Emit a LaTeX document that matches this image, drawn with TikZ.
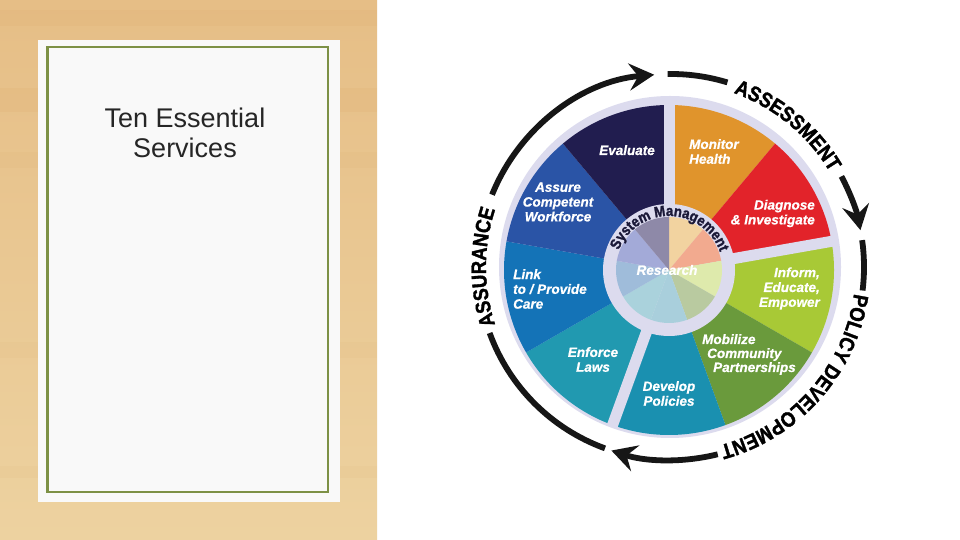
\documentclass[tikz,border=0pt]{standalone}
\usepackage{fontspec}
\setmainfont{Liberation Sans}
\newfontfamily\heavyfam{Liberation Sans}[FakeBold=1.6, FakeStretch=0.88]
\newfontfamily\secfam{Liberation Sans}[FakeBold=0.7]
\usetikzlibrary{arrows.meta,decorations.text}

\definecolor{woodtop}{HTML}{E6BE86}
\definecolor{woodbot}{HTML}{EDD2A0}
\definecolor{woodstreak}{HTML}{D9A564}
\definecolor{cardwhite}{HTML}{F9F9F9}
\definecolor{cardgreen}{HTML}{7D9146}
\definecolor{titlegray}{HTML}{262626}
\definecolor{lav}{HTML}{DCDBEE}
\definecolor{ringblack}{HTML}{161616}
\definecolor{smnavy}{HTML}{1B1938}
\definecolor{cEva}{HTML}{211D4F}
\definecolor{cMon}{HTML}{E0942C}
\definecolor{cDia}{HTML}{E2232A}
\definecolor{cInf}{HTML}{A8C936}
\definecolor{cMob}{HTML}{6A9A3C}
\definecolor{cDev}{HTML}{1A90B0}
\definecolor{cEnf}{HTML}{2199B0}
\definecolor{cLink}{HTML}{1473B7}
\definecolor{cAss}{HTML}{2A54A6}
\definecolor{hEva}{HTML}{8E89A8}
\definecolor{hMon}{HTML}{F2D3A0}
\definecolor{hDia}{HTML}{F2AA8F}
\definecolor{hInf}{HTML}{DEEAAC}
\definecolor{hMob}{HTML}{B9CAA0}
\definecolor{hDev}{HTML}{A9CFDC}
\definecolor{hEnf}{HTML}{AAD2DC}
\definecolor{hLink}{HTML}{9FBCDA}
\definecolor{hAss}{HTML}{A3AAD8}

\newcommand{\secfont}{\secfam\fontsize{13.5}{14.8}\selectfont\bfseries\itshape}
\newcommand{\ringfont}{\heavyfam\bfseries\fontsize{21}{21}\selectfont}
\newcommand{\smfont}{\heavyfam\bfseries\fontsize{15}{15}\selectfont}
\newcommand{\titlefont}{\fontsize{27}{31}\selectfont}

\tikzset{
  sec/.style={text=white, font=\secfont, inner sep=0pt},
  titletext/.style={text=titlegray, font=\titlefont, inner sep=0pt},
  ringline/.style={line width=5.8pt, draw=ringblack},
  ringarrow/.style={ringline, -{Stealth[length=25pt,width=27pt,inset=9pt]}},
  gapline/.style={line width=11pt, draw=lav},
}

\begin{document}
\begin{tikzpicture}[x=1pt,y=1pt]
\useasboundingbox (0,0) rectangle (960,540);
\fill[white] (0,0) rectangle (960,540);

% wood panel
\shade[top color=woodtop, bottom color=woodbot] (0,0) rectangle (377,540);
\fill[woodstreak, opacity=0.14] (0,428) rectangle (377,452);
\fill[woodstreak, opacity=0.08] (0,372) rectangle (377,388);
\fill[woodstreak, opacity=0.12] (0,514) rectangle (377,530);
\fill[woodstreak, opacity=0.07] (0,182) rectangle (377,198);
\fill[woodstreak, opacity=0.07] (0,62) rectangle (377,74);

% card
\fill[cardwhite] (38,38) rectangle (340,500);
\draw[cardgreen, line width=2.2pt] (47.5,48) rectangle (328,493);
\node[titletext, anchor=base] (t1) at (185,412) {Ten Essential};
\node[titletext, anchor=base] (t2) at (185,382) {Services};

% wheel
\coordinate (S) at (669,270);
\coordinate (D) at (670,273);
\coordinate (R) at (671,273);

\fill[lav] (D) circle[radius=171pt];

\foreach \a/\b/\c in {50/90/cMon, 10/50/cDia, -30/10/cInf, -70/-30/cMob, -110/-70/cDev, -150/-110/cEnf, -190/-150/cLink, -230/-190/cAss, -270/-230/cEva}
  \fill[\c] (S) -- ([shift={(\a:165)}]S) arc[start angle=\a, end angle=\b, radius=165pt] -- cycle;

\foreach \a in {90,10,-110}
  \draw[gapline] (S) -- ([shift={(\a:167)}]S);

\fill[lav] (S) circle[radius=66pt];
\foreach \a/\b/\c in {50/90/hMon, 10/50/hDia, -30/10/hInf, -70/-30/hMob, -110/-70/hDev, -150/-110/hEnf, -190/-150/hLink, -230/-190/hAss, -270/-230/hEva}
  \fill[\c] (S) -- ([shift={(\a:53)}]S) arc[start angle=\a, end angle=\b, radius=53pt] -- cycle;

\path[decorate, decoration={text along path, text={|\smfont\color{smnavy}|System Management}, text align=center}]
  ([shift={(164:54)}]S) arc[start angle=164, end angle=14, radius=54pt];

% sector labels
\node[sec, anchor=base] (eva) at (627,385) {Evaluate};
\node[sec, anchor=west, align=left] (mon) at (689,388.5) {Monitor\\Health};
\node[sec, anchor=east, align=right] (dia) at (815,326.5) {Diagnose\\\& Investigate};
\node[sec, anchor=east, align=right] (inf) at (820,251.5) {Inform,\\Educate,\\Empower};
\node[sec, anchor=base west] (mob1) at (702,196) {Mobilize};
\node[sec, anchor=base west] (mob2) at (707,182) {Community};
\node[sec, anchor=base west] (mob3) at (713,168) {Partnerships};
\node[sec, align=center] (dev) at (669,146.5) {Develop\\Policies};
\node[sec, align=center] (enf) at (593,180.5) {Enforce\\Laws};
\node[sec, anchor=west, align=left] (link) at (513,251) {Link\\to / Provide\\Care};
\node[sec, align=center] (ass) at (558,338) {Assure\\Competent\\Workforce};
\node[sec] (res) at (667,270) {Research};

% outer ring
\draw[ringline] ([shift={(91:193)}]R) arc[start angle=91, end angle=73, radius=193pt];
\draw[ringarrow] ([shift={(28:193)}]R) arc[start angle=28, end angle=11, radius=193pt];
\draw[ringline] ([shift={(8:193)}]R) arc[start angle=8, end angle=-7, radius=193pt];
\draw[ringarrow] ([shift={(-76:193)}]R) arc[start angle=-76, end angle=-108, radius=193pt];
\draw[ringline] ([shift={(250:193)}]R) arc[start angle=250, end angle=200, radius=193pt];
\draw[ringarrow] ([shift={(158:193)}]R) arc[start angle=158, end angle=95, radius=193pt];

\path[decorate, decoration={text along path, text={|\ringfont|ASSESSMENT}, text align=center}]
  ([shift={(72:185)}]R) arc[start angle=72, end angle=29, radius=185pt];
\path[decorate, decoration={text along path, text={|\ringfont|POLICY DEVELOPMENT}, text align=center}]
  ([shift={(-7:185)}]R) arc[start angle=-7, end angle=-76, radius=185pt];
\path[decorate, decoration={text along path, text={|\ringfont|ASSURANCE}, text align=center}]
  ([shift={(199:185)}]R) arc[start angle=199, end angle=161, radius=185pt];
\end{tikzpicture}
\end{document}
